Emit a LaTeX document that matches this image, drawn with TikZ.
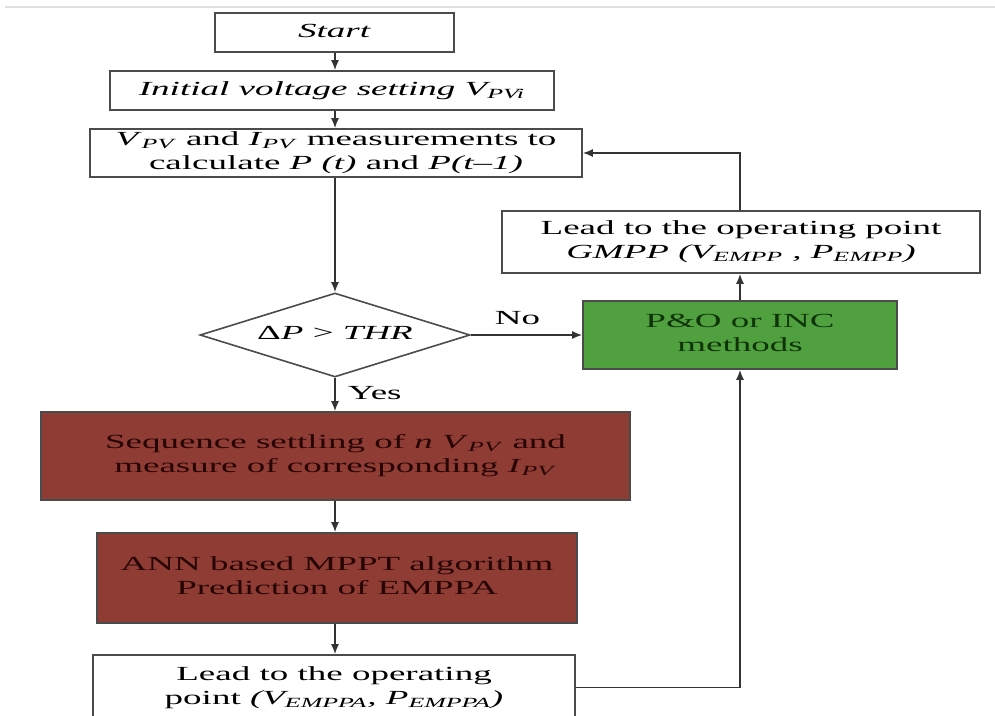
\documentclass[tikz,border=0pt]{standalone}
\usepackage{fontspec}
\setmainfont{Liberation Serif}
\usepackage{graphicx}
\usetikzlibrary{shapes.geometric,arrows.meta}
\definecolor{redfill}{RGB}{142,60,52}
\definecolor{redtext}{RGB}{40,5,5}
\definecolor{greenfill}{RGB}{80,160,64}
\definecolor{greentext}{RGB}{15,52,8}
\definecolor{edge}{RGB}{75,75,75}
\newcommand{\sx}[1]{\scalebox{1.85}[1]{\begin{tabular}{@{}c@{}}#1\end{tabular}}}
\begin{document}
\begin{tikzpicture}[x=1pt,y=-1pt,
  box/.style={draw=edge, line width=1.6pt, rectangle, inner sep=0pt, fill=white, font=\fontsize{20}{24}\selectfont},
  redbox/.style={box, fill=redfill, text=redtext},
  greenbox/.style={box, fill=greenfill, text=greentext},
  arr/.style={draw=black!80, line width=1.6pt, -{Latex[length=10pt,width=8pt]}},
  lab/.style={font=\fontsize{20}{24}\selectfont, inner sep=0pt}]
\useasboundingbox (0,0) rectangle (995,715);
\clip (0,0) rectangle (995,715);
\draw[black!12, line width=2pt] (5,7) -- (995,7);

\node[box, minimum width=239pt, minimum height=39pt] (start) at (334.5,32.5) {\sx{\textit{Start}}};
\node[box, minimum width=444pt, minimum height=39pt] (init) at (332,90.5) {\sx{\textit{Initial voltage setting V\textsubscript{PVi}}}};
\node[box, minimum width=492pt, minimum height=46pt] (meas) at (336,153) {\sx{\textit{V}\textsubscript{\textit{PV}} and \textit{I}\textsubscript{\textit{PV}} measurements to\\calculate \textit{P (t)} and \textit{P(t--1)}}};
\node[draw=edge, line width=1.6pt, diamond, aspect=3.2, minimum width=270pt, minimum height=84pt, inner sep=0pt, font=\fontsize{20}{24}\selectfont] (dec) at (335,335) {\sx{Δ\textit{P} > \textit{THR}}};
\node[greenbox, minimum width=314pt, minimum height=68pt] (po) at (740,335) {\sx{P\&O or INC\\methods}};
\node[box, minimum width=478pt, minimum height=62pt] (gmpp) at (741,242) {\sx{Lead to the operating point\\\textit{GMPP (V\textsubscript{EMPP} , P\textsubscript{EMPP})}}};
\node[redbox, minimum width=589pt, minimum height=88pt] (red1) at (335.5,456) {\sx{Sequence settling of \textit{n V}\textsubscript{\textit{PV}} and\\measure of corresponding \textit{I}\textsubscript{\textit{PV}}}};
\node[redbox, minimum width=480pt, minimum height=90pt] (red2) at (337,578) {\sx{ANN based MPPT algorithm\\Prediction of EMPPA}};
\node[box, minimum width=482pt, minimum height=65pt] (bot) at (334,687.5) {\sx{Lead to the operating\\point \textit{(V\textsubscript{EMPPA}, P\textsubscript{EMPPA})}}};

\draw[arr] (start.south -| dec.north) -- (init.north -| dec.north);
\draw[arr] (init.south -| dec.north) -- (meas.north -| dec.north);
\draw[arr] (meas.south -| dec.north) -- (dec.north);
\draw[arr] (dec.east) -- (po.west) node[lab, pos=0.42, above=3pt] {\sx{No}};
\draw[arr] (dec.south) -- (red1.north -| dec.south) node[lab, midway, right=12pt] {\sx{Yes}};
\draw[arr] (red1.south -| dec.south) -- (red2.north -| dec.south);
\draw[arr] (red2.south -| dec.south) -- (bot.north -| dec.south);
\draw[arr] (po.north) -- (gmpp.south -| po.north);
\draw[arr] (gmpp.north -| po.north) |- (meas.east);
\draw[arr] (bot.east) -| (po.south);
\end{tikzpicture}
\end{document}
